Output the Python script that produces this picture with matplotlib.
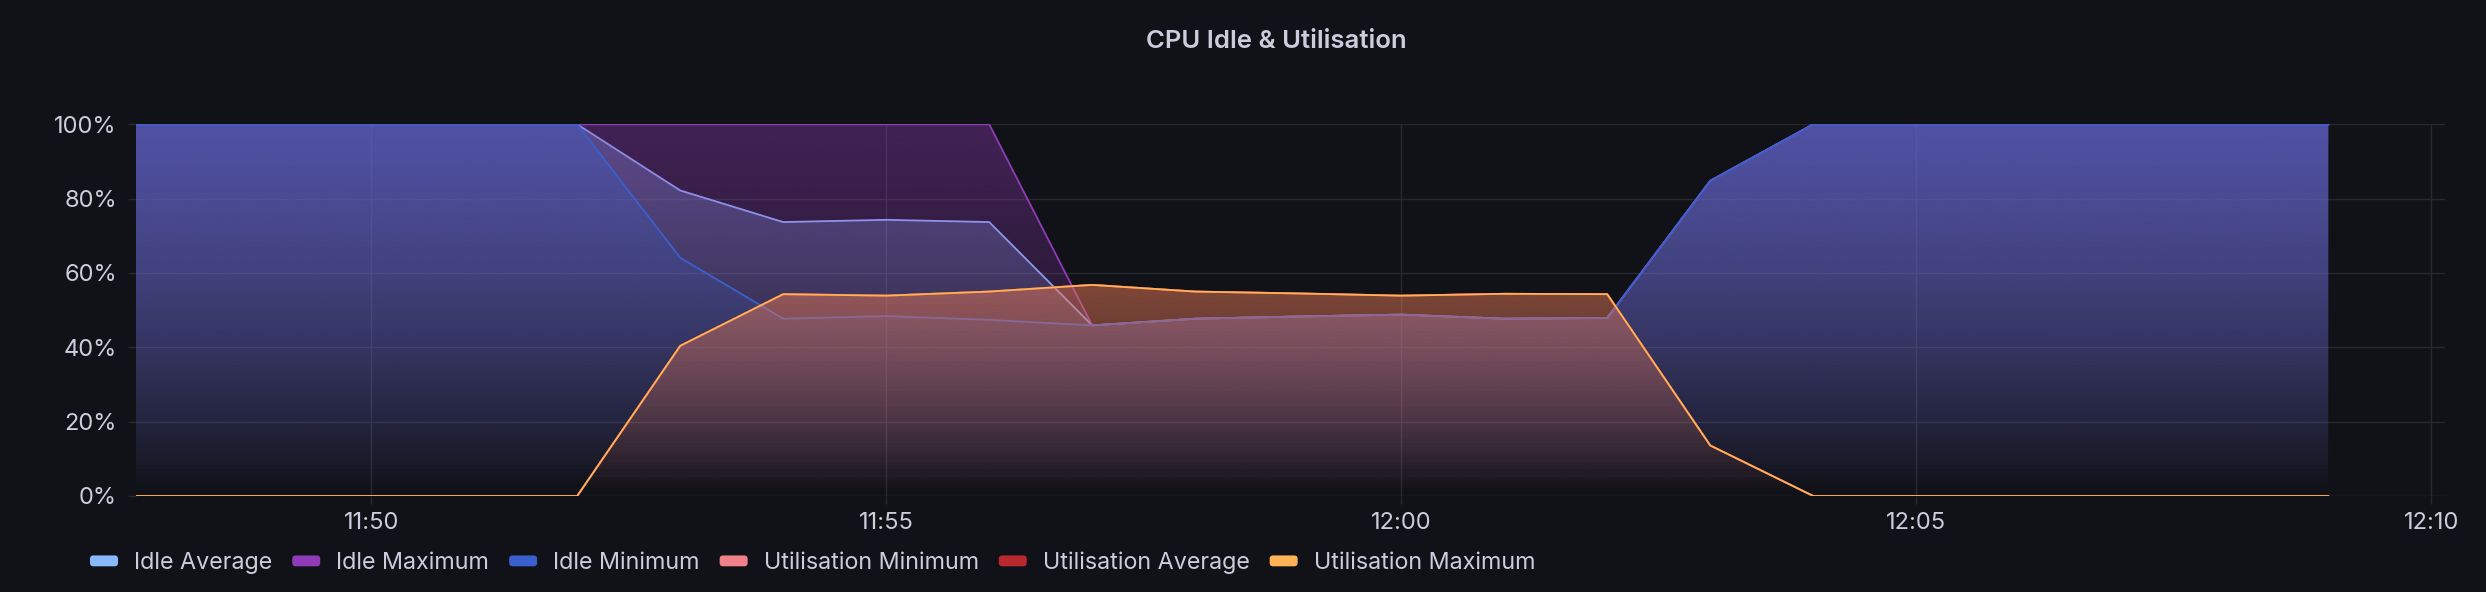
import matplotlib
matplotlib.use("Agg")
import matplotlib.pyplot as plt
import matplotlib.dates as mdates
import numpy as np
from datetime import datetime
from matplotlib.patches import FancyBboxPatch, Patch
from matplotlib.legend_handler import HandlerPatch

# ---------------- data ----------------
time_labels = ["11:47", "11:48", "11:49", "11:50", "11:51", "11:52", "11:53", "11:54",
               "11:55", "11:56", "11:57", "11:58", "11:59", "12:00", "12:01", "12:02",
               "12:03", "12:04", "12:05", "12:06", "12:07", "12:08", "12:09"]

idle_average = [100, 100, 100, 100, 100, 100, 82.2, 73.7, 74.3, 73.7, 45.9, 47.7,
                48.3, 48.8, 47.7, 47.9, 84.8, 100, 100, 100, 100, 100, 100]
idle_maximum = [100, 100, 100, 100, 100, 100, 100, 100, 100, 100, 45.9, 47.7,
                48.3, 48.8, 47.7, 47.9, 84.8, 100, 100, 100, 100, 100, 100]
idle_minimum = [100, 100, 100, 100, 100, 100, 64.1, 47.7, 48.4, 47.4, 45.9, 47.7,
                48.3, 48.8, 47.7, 47.9, 84.8, 100, 100, 100, 100, 100, 100]
util_minimum = [0, 0, 0, 0, 0, 0, 40.4, 54.3, 53.9, 55.0, 56.8, 55.0,
                54.5, 53.9, 54.4, 54.3, 13.6, 0, 0, 0, 0, 0, 0]
util_average = [0, 0, 0, 0, 0, 0, 40.4, 54.3, 53.9, 55.0, 56.8, 55.0,
                54.5, 53.9, 54.4, 54.3, 13.6, 0, 0, 0, 0, 0, 0]
util_maximum = [0, 0, 0, 0, 0, 0, 40.4, 54.3, 53.9, 55.0, 56.8, 55.0,
                54.5, 53.9, 54.4, 54.3, 13.6, 0, 0, 0, 0, 0, 0]

series_names = ["Idle Average", "Idle Maximum", "Idle Minimum",
                "Utilisation Minimum", "Utilisation Average", "Utilisation Maximum"]
series_values = [idle_average, idle_maximum, idle_minimum,
                 util_minimum, util_average, util_maximum]
series_colors = ["#8AB8FF", "#8F3BB8", "#3B5FCC", "#F2808A", "#B8282E", "#FFB357"]

title = "CPU Idle & Utilisation"
y_ticks = [0, 20, 40, 60, 80, 100]
day = "2024-01-01"

# ---------------- style ----------------
BG = "#111217"
TXT = "#ccccdc"
GRID = "#28292f"
FONT = ["Inter", "DejaVu Sans"]
plt.rcParams["font.family"] = FONT

fig = plt.figure(figsize=(24.86, 5.92), dpi=100, facecolor=BG)
ax = fig.add_axes([136 / 2486, 1 - 496 / 592, (2445 - 136) / 2486, (496 - 124.3) / 592])
ax.set_facecolor(BG)

times = [datetime.strptime(f"{day} {t}", "%Y-%m-%d %H:%M") for t in time_labels]
x = mdates.date2num(times)

x_left = mdates.date2num(datetime.strptime(f"{day} 11:47:43", "%Y-%m-%d %H:%M:%S"))
x_right = mdates.date2num(datetime.strptime(f"{day} 12:10:08", "%Y-%m-%d %H:%M:%S"))

# gradient fills + lines, drawn series by series
z = 2
for name, vals, col in zip(series_names, series_values, series_colors):
    vals = np.asarray(vals, dtype=float)
    poly = ax.fill_between(x, 0, vals, facecolor="none", edgecolor="none")
    rgb = matplotlib.colors.to_rgb(col)
    n = 256
    img = np.zeros((n, 1, 4))
    img[:, 0, 0] = rgb[0]
    img[:, 0, 1] = rgb[1]
    img[:, 0, 2] = rgb[2]
    img[:, 0, 3] = np.linspace(0.0, 0.39, n)
    im = ax.imshow(img, extent=(x[0], x[-1], 0, 100), origin="lower",
                   aspect="auto", interpolation="bilinear", zorder=z)
    im.set_clip_path(poly.get_paths()[0], transform=ax.transData)
    ax.plot(x, vals, color=col, lw=1.3, zorder=z + 0.5, solid_joinstyle="round")
    z += 1

ax.set_xlim(x_left, x_right)
ax.set_ylim(0, 100)

# axes styling
for s in ax.spines.values():
    s.set_visible(False)
ax.grid(True, color=GRID, lw=1.0, zorder=0)
ax.set_axisbelow(True)
ax.xaxis.set_major_locator(mdates.MinuteLocator(byminute=range(0, 60, 5)))
ax.xaxis.set_major_formatter(mdates.DateFormatter("%H:%M"))
ax.set_yticks(y_ticks)
ax.set_yticklabels([f"{v}%" for v in y_ticks])
ax.tick_params(axis="both", colors=GRID, labelcolor=TXT, labelsize=17,
               length=5.8, width=1.0)
ax.tick_params(axis="y", pad=8)
ax.tick_params(axis="x", pad=6)

# title
fig.text(1276 / 2486, 1 - 41 / 592, title, ha="center", va="center",
         color=TXT, fontsize=18.5, fontweight="semibold")

# legend with rounded bar swatches
class RoundBarHandler(HandlerPatch):
    def create_artists(self, legend, orig_handle, xdescent, ydescent,
                       width, height, fontsize, trans):
        p = FancyBboxPatch((-xdescent, -ydescent), width, height,
                           boxstyle="round,pad=0,rounding_size=2.5",
                           facecolor=orig_handle.get_facecolor(),
                           edgecolor="none", transform=trans)
        return [p]

handles = [Patch(facecolor=c) for c in series_colors]
leg = fig.legend(handles, series_names, loc="center left",
                 bbox_to_anchor=(90 / 2486, 1 - 563 / 592), ncol=6,
                 frameon=False, fontsize=16.8, handlelength=1.2,
                 handleheight=0.34, handletextpad=0.686, columnspacing=0.857,
                 borderpad=0, borderaxespad=0,
                 handler_map={Patch: RoundBarHandler()})
for t in leg.get_texts():
    t.set_color(TXT)

fig.savefig("out.png", dpi=100, facecolor=BG)
